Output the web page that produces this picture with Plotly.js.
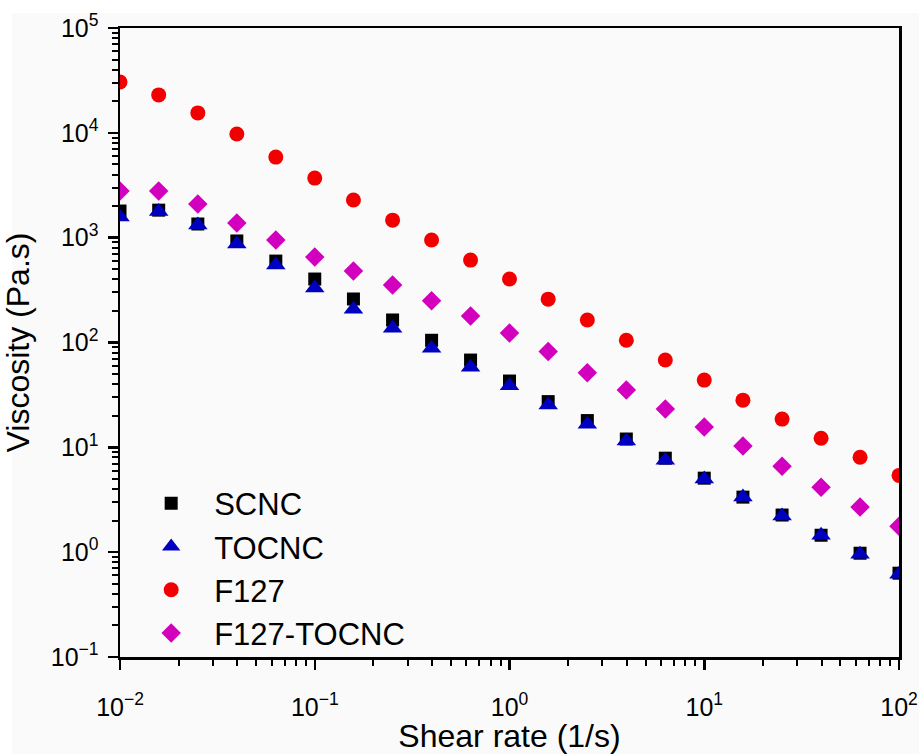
<!DOCTYPE html>
<html><head><meta charset="utf-8">
<script src="https://cdn.plot.ly/plotly-3.0.1.min.js"></script>
<style>
html,body{margin:0;padding:0;background:#ffffff;width:919px;height:754px;overflow:hidden}
#chart{position:absolute;left:0;top:0;width:919px;height:754px}
</style>
</head><body><div id="chart"></div>
<script>
// Shear rate (1/s)
const shearRate = [0.01, 0.0158, 0.0251, 0.0398, 0.0631, 0.1, 0.158, 0.251, 0.398, 0.631, 1, 1.58, 2.51, 3.98, 6.31, 10, 15.8, 25.1, 39.8, 63.1, 100];
// Viscosity (Pa.s)
const scnc = [1795, 1830, 1350, 930, 598, 403, 260, 164, 105, 68, 42.9, 27.3, 18.0, 12.0, 7.88, 5.08, 3.35, 2.26, 1.45, 0.977, 0.63];
const tocnc = [1574, 1780, 1320, 869, 548, 331, 208, 137, 88, 58, 38.6, 25.4, 16.6, 11.5, 7.55, 4.98, 3.35, 2.21, 1.45, 0.957, 0.617];
const f127 = [30500, 23000, 15500, 9750, 5870, 3700, 2290, 1470, 950, 611, 403, 259, 164, 105, 68, 43.8, 28.2, 18.6, 12.2, 8.05, 5.4];
const f127Tocnc = [2790, 2790, 2094, 1378, 948, 653, 480, 353, 250, 179, 123, 82, 51.5, 35.2, 23.2, 15.6, 10.3, 6.6, 4.17, 2.69, 1.77];

const seriesNames = ['SCNC', 'TOCNC', 'F127', 'F127-TOCNC'];

const xTickVals = [0.01, 0.1, 1, 10, 100];
const xTickText = ['10<sup>\u22122</sup>', '10<sup>\u22121</sup>', '10<sup>0</sup>', '10<sup>1</sup>', '10<sup>2</sup>'];
const yTickVals = [0.1, 1, 10, 100, 1000, 10000, 100000];
const yTickText = ['10<sup>\u22121</sup>', '10<sup>0</sup>', '10<sup>1</sup>', '10<sup>2</sup>', '10<sup>3</sup>', '10<sup>4</sup>', '10<sup>5</sup>'];

function minorVals(lo, hi) {
  const out = [];
  for (let e = lo; e < hi; e++) {
    for (let m = 2; m <= 9; m++) out.push(m * Math.pow(10, e));
  }
  return out;
}

const FONT = 'Liberation Sans, Arial, sans-serif';
const BG = '#fafafa';

const traces = [
  {x: shearRate, y: scnc, name: seriesNames[0], mode: 'markers', type: 'scatter',
   marker: {symbol: 'square', size: 13, color: '#000000'}},
  {x: shearRate, y: tocnc, name: seriesNames[1], mode: 'markers', type: 'scatter',
   marker: {symbol: 'triangle-up', size: 17, color: '#0000c0'}},
  {x: shearRate, y: f127, name: seriesNames[2], mode: 'markers', type: 'scatter',
   marker: {symbol: 'circle', size: 15, color: '#f20000'}},
  {x: shearRate, y: f127Tocnc, name: seriesNames[3], mode: 'markers', type: 'scatter',
   marker: {symbol: 'diamond', size: 15, color: '#d200be'}}
];

const axisCommon = {
  type: 'log', showgrid: false, zeroline: false,
  showline: true, linecolor: '#000', linewidth: 2.5, mirror: true,
  ticks: 'outside', ticklen: 10, tickwidth: 2.5, tickcolor: '#000',
  tickmode: 'array', tickfont: {family: FONT, size: 25, color: '#000'}
};

const layout = {
  width: 919, height: 754,
  paper_bgcolor: '#ffffff', plot_bgcolor: 'rgba(0,0,0,0)',
  margin: {l: 120, r: 20, t: 28, b: 97},
  font: {family: FONT, color: '#000'},
  showlegend: true,
  shapes: [{type: 'rect', xref: 'paper', yref: 'paper', layer: 'below',
            x0: -0.1386, x1: 1.03, y0: -0.16, y1: 1.0239,
            fillcolor: BG, line: {width: 0}}],
  legend: {x: 0.0105, y: 0.287, xanchor: 'left', yanchor: 'top', bgcolor: 'rgba(0,0,0,0)',
           font: {family: FONT, size: 31, color: '#000'}, itemwidth: 76, tracegroupgap: 0},
  xaxis: Object.assign({}, axisCommon, {
    range: [-2, 2], tickvals: xTickVals, ticktext: xTickText, ticklabelstandoff: 16,
    minor: {tickmode: 'array', tickvals: minorVals(-2, 2), ticks: 'outside', ticklen: 6, tickwidth: 2, tickcolor: '#000', showgrid: false},
    title: {text: 'Shear rate (1/s)', font: {family: FONT, size: 32, color: '#000'}, standoff: 8}
  }),
  yaxis: Object.assign({}, axisCommon, {
    range: [-1, 5], tickvals: yTickVals, ticktext: yTickText, ticklabelstandoff: 4,
    minor: {tickmode: 'array', tickvals: minorVals(-1, 5), ticks: 'outside', ticklen: 6, tickwidth: 2, tickcolor: '#000', showgrid: false},
    title: {text: 'Viscosity (Pa.s)', font: {family: FONT, size: 32, color: '#000'}, standoff: 14}
  })
};

Plotly.newPlot('chart', traces, layout, {displayModeBar: false, staticPlot: true});
</script>
</body></html>
